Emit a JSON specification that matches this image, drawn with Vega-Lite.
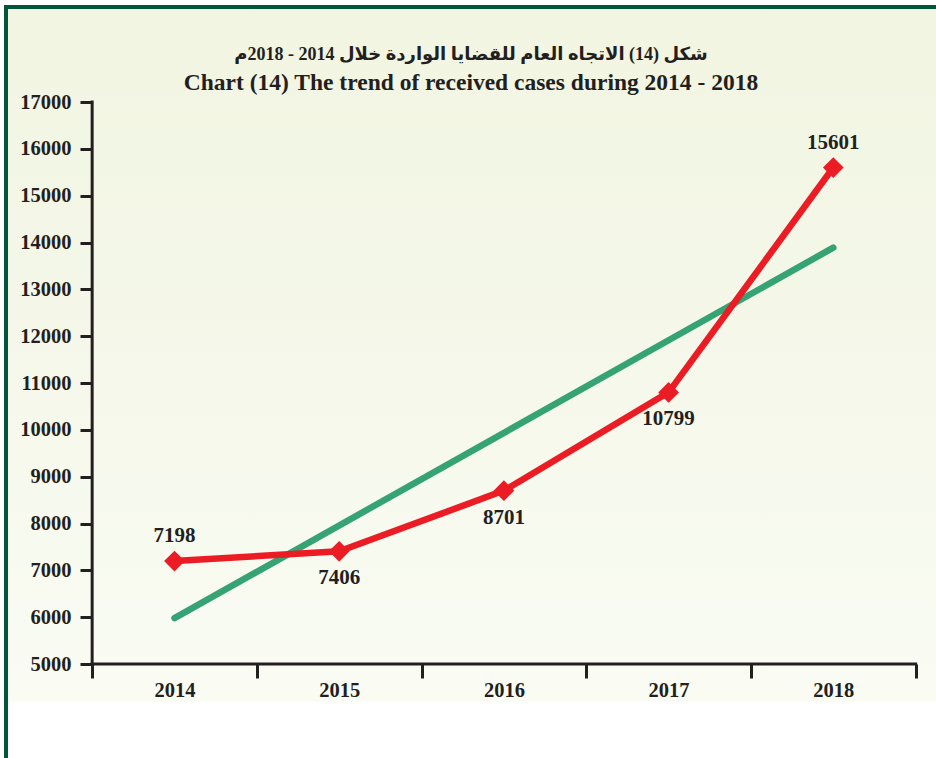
{
  "$schema": "https://vega.github.io/schema/vega-lite/v6.json",
  "width": 930,
  "height": 751,
  "autosize": {"type": "none"},
  "padding": {"left": 6, "top": 7, "right": 0, "bottom": 0},
  "background": "#ffffff",
  "config": {"view": {"stroke": null}},
  "datasets": {
    "cases": [
      {"year": 2014, "cases": 7198},
      {"year": 2015, "cases": 7406},
      {"year": 2016, "cases": 8701},
      {"year": 2017, "cases": 10799},
      {"year": 2018, "cases": 15601}
    ],
    "trend": [
      {"year": 2014, "value": 5980},
      {"year": 2018, "value": 13890}
    ],
    "frame": [{"x0": 2012.9769, "x1": 2018.6236, "y0": 2992.9, "y1": 19028.5}],
    "axislines": [{"xa": 2013.5, "xb": 2018.5, "ya": 5000, "yb": 17000}]
  },
  "title": {
    "text": "شكل (14) الاتجاه العام للقضايا الواردة خلال 2014 - 2018م",
    "subtitle": "Chart (14) The trend of received cases during 2014 - 2018",
    "font": "Liberation Serif, DejaVu Sans",
    "fontSize": 18,
    "fontWeight": "bold",
    "color": "#231f20",
    "subtitleFont": "Liberation Serif",
    "subtitleFontSize": 23.5,
    "subtitleFontWeight": "bold",
    "subtitleColor": "#231f20",
    "subtitlePadding": 7,
    "anchor": "middle",
    "frame": "group",
    "dy": 94
  },
  "layer": [
    {
      "data": {"name": "frame"},
      "mark": {
        "type": "rect",
        "fill": {
          "gradient": "linear", "x1": 0, "y1": 0, "x2": 0, "y2": 1,
          "stops": [
            {"offset": 0, "color": "#f1f5e1"},
            {"offset": 0.5, "color": "#f5f8ea"},
            {"offset": 0.924, "color": "#fafcf4"},
            {"offset": 0.926, "color": "#ffffff"},
            {"offset": 1, "color": "#ffffff"}
          ]
        }
      },
      "encoding": {
        "x": {"field": "x0", "type": "quantitative", "scale": {"domain": [2012.9769, 2018.6236], "nice": false, "zero": false},
              "axis": {"orient": "bottom", "offset": -94, "zindex": 1, "values": [2013.5, 2014.5, 2015.5, 2016.5, 2017.5, 2018.5],
                       "domain": false, "grid": false, "title": null, "tickSize": 14, "tickWidth": 3, "tickColor": "#231f20",
                       "labelExpr": "datum.value < 2018 ? toString(datum.value + 0.5) : ''",
                       "labelOffset": 82.35, "labelFlush": false, "labelOverlap": false, "labelBound": false,
                       "labelFont": "Liberation Serif", "labelFontWeight": "bold", "labelFontSize": 20.5, "labelColor": "#231f20", "labelPadding": 2}},
        "x2": {"field": "x1"},
        "y": {"field": "y0", "type": "quantitative", "scale": {"domain": [2992.9, 19028.5], "nice": false, "zero": false},
              "axis": {"orient": "left", "offset": -86, "zindex": 1, "values": [5000, 6000, 7000, 8000, 9000, 10000, 11000, 12000, 13000, 14000, 15000, 16000, 17000],
                       "format": "d", "domain": false, "grid": false, "title": null, "tickSize": 12, "tickWidth": 3, "tickColor": "#231f20",
                       "labelOverlap": false, "labelBound": false,
                       "labelFont": "Liberation Serif", "labelFontWeight": "bold", "labelFontSize": 20.5, "labelColor": "#231f20", "labelPadding": 9}},
        "y2": {"field": "y1"}
      }
    },
    {
      "data": {"name": "frame"},
      "mark": {"type": "rule", "color": "#00553a", "strokeWidth": 4},
      "encoding": {
        "x": {"field": "x0", "type": "quantitative", "scale": {"domain": [2012.9769, 2018.6236], "nice": false, "zero": false}},
        "y": {"field": "y0", "type": "quantitative", "scale": {"domain": [2992.9, 19028.5], "nice": false, "zero": false}},
        "y2": {"field": "y1"}
      }
    },
    {
      "data": {"name": "frame"},
      "mark": {"type": "rule", "color": "#00553a", "strokeWidth": 4, "strokeCap": "square"},
      "encoding": {
        "x": {"field": "x0", "type": "quantitative", "scale": {"domain": [2012.9769, 2018.6236], "nice": false, "zero": false}},
        "x2": {"field": "x1"},
        "y": {"field": "y1", "type": "quantitative", "scale": {"domain": [2992.9, 19028.5], "nice": false, "zero": false}}
      }
    },
    {
      "data": {"name": "trend"},
      "mark": {"type": "line", "color": "#35a373", "strokeWidth": 6.5, "strokeCap": "round"},
      "encoding": {
        "x": {"field": "year", "type": "quantitative", "scale": {"domain": [2012.9769, 2018.6236], "nice": false, "zero": false}},
        "y": {"field": "value", "type": "quantitative", "scale": {"domain": [2992.9, 19028.5], "nice": false, "zero": false}}
      }
    },
    {
      "data": {"name": "axislines"},
      "mark": {"type": "rule", "color": "#231f20", "strokeWidth": 3, "strokeCap": "square"},
      "encoding": {
        "x": {"field": "xa", "type": "quantitative", "scale": {"domain": [2012.9769, 2018.6236], "nice": false, "zero": false}},
        "y": {"field": "ya", "type": "quantitative", "scale": {"domain": [2992.9, 19028.5], "nice": false, "zero": false}},
        "y2": {"field": "yb"}
      }
    },
    {
      "data": {"name": "axislines"},
      "mark": {"type": "rule", "color": "#231f20", "strokeWidth": 3, "strokeCap": "square"},
      "encoding": {
        "x": {"field": "xa", "type": "quantitative", "scale": {"domain": [2012.9769, 2018.6236], "nice": false, "zero": false}},
        "x2": {"field": "xb"},
        "y": {"field": "ya", "type": "quantitative", "scale": {"domain": [2992.9, 19028.5], "nice": false, "zero": false}}
      }
    },
    {
      "data": {"name": "cases"},
      "mark": {"type": "line", "color": "#ec1c24", "strokeWidth": 6.5},
      "encoding": {
        "x": {"field": "year", "type": "quantitative", "scale": {"domain": [2012.9769, 2018.6236], "nice": false, "zero": false}},
        "y": {"field": "cases", "type": "quantitative", "scale": {"domain": [2992.9, 19028.5], "nice": false, "zero": false}}
      }
    },
    {
      "data": {"name": "cases"},
      "mark": {"type": "point", "shape": "diamond", "filled": true, "size": 430, "color": "#ec1c24", "opacity": 1},
      "encoding": {
        "x": {"field": "year", "type": "quantitative", "scale": {"domain": [2012.9769, 2018.6236], "nice": false, "zero": false}},
        "y": {"field": "cases", "type": "quantitative", "scale": {"domain": [2992.9, 19028.5], "nice": false, "zero": false}}
      }
    },
    {
      "data": {"name": "cases"},
      "transform": [{"filter": "datum.year == 2014 || datum.year == 2018"}],
      "mark": {"type": "text", "font": "Liberation Serif", "fontWeight": "bold", "fontSize": 21, "color": "#231f20", "dy": -25},
      "encoding": {
        "x": {"field": "year", "type": "quantitative", "scale": {"domain": [2012.9769, 2018.6236], "nice": false, "zero": false}},
        "y": {"field": "cases", "type": "quantitative", "scale": {"domain": [2992.9, 19028.5], "nice": false, "zero": false}},
        "text": {"field": "cases", "type": "quantitative", "format": "d"}
      }
    },
    {
      "data": {"name": "cases"},
      "transform": [{"filter": "datum.year != 2014 && datum.year != 2018"}],
      "mark": {"type": "text", "font": "Liberation Serif", "fontWeight": "bold", "fontSize": 21, "color": "#231f20", "dy": 27},
      "encoding": {
        "x": {"field": "year", "type": "quantitative", "scale": {"domain": [2012.9769, 2018.6236], "nice": false, "zero": false}},
        "y": {"field": "cases", "type": "quantitative", "scale": {"domain": [2992.9, 19028.5], "nice": false, "zero": false}},
        "text": {"field": "cases", "type": "quantitative", "format": "d"}
      }
    }
  ]
}
